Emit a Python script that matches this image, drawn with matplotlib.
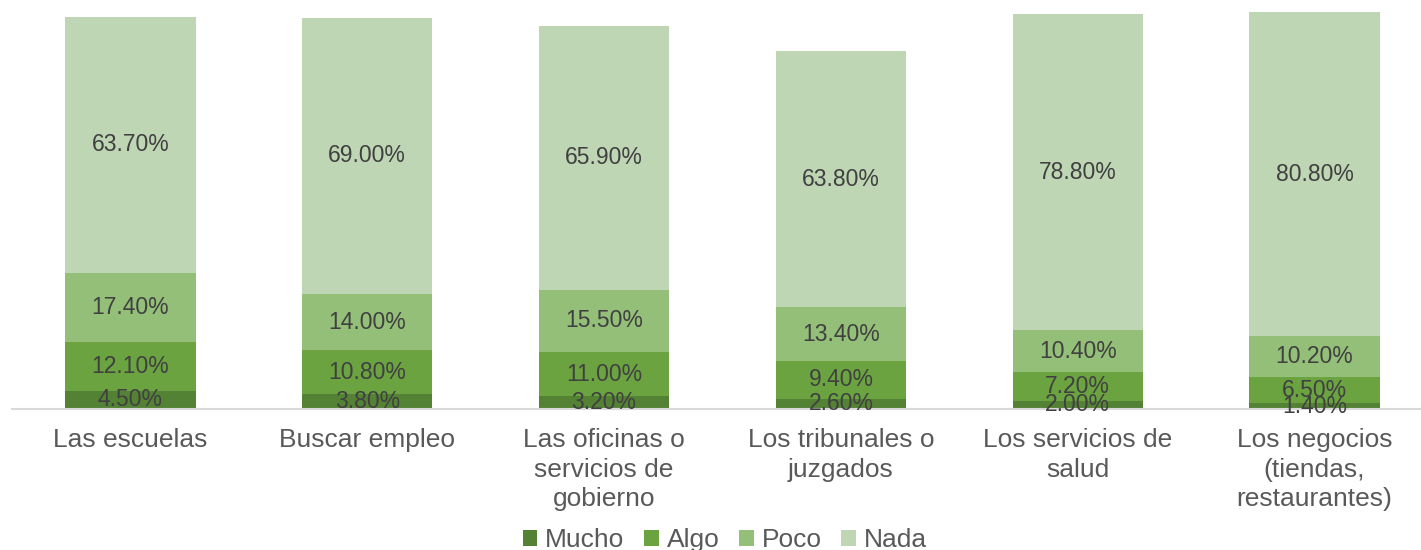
import matplotlib
matplotlib.use("Agg")
import matplotlib.pyplot as plt
import numpy as np

plt.rcParams["font.family"] = ["Liberation Sans", "DejaVu Sans"]

categories = ["Las escuelas", "Buscar empleo", "Las oficinas o\nservicios de\ngobierno",
              "Los tribunales o\njuzgados", "Los servicios de\nsalud",
              "Los negocios\n(tiendas,\nrestaurantes)"]
series = ["Mucho", "Algo", "Poco", "Nada"]
mucho = [4.5, 3.8, 3.2, 2.6, 2.0, 1.4]
algo = [12.1, 10.8, 11.0, 9.4, 7.2, 6.5]
poco = [17.4, 14.0, 15.5, 13.4, 10.4, 10.2]
nada = [63.7, 69.0, 65.9, 63.8, 78.8, 80.8]
colors = ["#548235", "#6aa340", "#93bf78", "#bfd6b4"]

fig = plt.figure(figsize=(14.21, 5.5), dpi=100)
ax = fig.add_axes([12 / 1421, 141 / 550, 1.0, 401 / 550])

x = np.arange(len(categories))
bottom = np.zeros(len(categories))
for name, vals, c in zip(series, [mucho, algo, poco, nada], colors):
    bc = ax.bar(x, vals, 0.55, bottom=bottom, color=c, label=name)
    ax.bar_label(bc, labels=[f"{v:.2f}%" for v in vals], label_type="center",
                 fontsize=16.5, color="#404040")
    bottom += np.array(vals)

ax.set_xlim(-0.5, 5.5)
ax.set_ylim(0, 100)
ax.set_yticks([])
ax.set_xticks(x)
ax.set_xticklabels(categories, fontsize=19, color="#595959", linespacing=1.27,
                   va="top")
ax.tick_params(axis="x", length=0, pad=14)
for s in ["top", "right", "left"]:
    ax.spines[s].set_visible(False)
ax.spines["bottom"].set_color("#d9d9d9")
ax.spines["bottom"].set_linewidth(1.5)

fig.legend(loc="center", bbox_to_anchor=(0.51, 0.018), ncol=4, frameon=False,
           fontsize=19, handlelength=0.55, handleheight=0.55, handletextpad=0.3,
           columnspacing=0.75, labelcolor="#595959")

fig.savefig("out.png", dpi=100)
